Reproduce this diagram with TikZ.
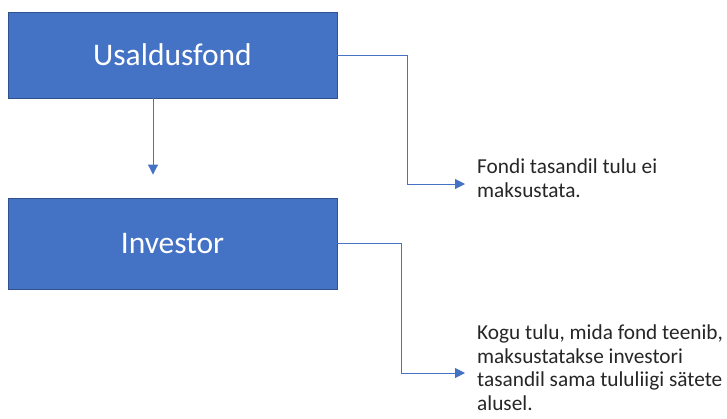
\documentclass[tikz,border=0pt]{standalone}
\usepackage{fontspec}
\setmainfont{Carlito}
\usetikzlibrary{arrows.meta}
\definecolor{boxblue}{HTML}{4472C4}
\definecolor{boxedge}{HTML}{2F528F}
\begin{document}
\begin{tikzpicture}[x=1pt,y=-1pt,
  entity/.style={rectangle, fill=boxblue, draw=boxedge, line width=0.9pt,
    minimum width=329pt, text=white, font=\fontsize{31.5}{37}\selectfont, inner sep=0pt},
  conn/.style={draw=boxblue, line width=1pt,
    -{Triangle[length=10pt,width=10pt]}},
  note/.style={align=left, inner sep=0pt, text=black!85,
    font=\fontsize{21.3}{23.5}\selectfont}]
  \useasboundingbox (0,0) rectangle (727,418);

  % the two entities
  \node[entity, minimum height=86pt] (fund) at (172.5,55) {Usaldusfond};
  \node[entity, minimum height=91pt] (investor) at (172.5,243.5) {Investor};

  % explanatory notes (base = baseline of the last line)
  \node[note, anchor=base west] (note1) at (477,197)
    {Fondi tasandil tulu ei\\maksustata.};
  \node[note, anchor=base west] (note2) at (477,410)
    {Kogu tulu, mida fond teenib,\\maksustatakse investori\\tasandil sama tululiigi sätete\\alusel.};

  \coordinate (tip1) at (465,184);
  \coordinate (tip2) at (465,373);

  % connectors
  \draw[conn] ([xshift=-19.5pt]fund.south) -- ([xshift=-19.5pt,yshift=23pt]investor.north);
  \draw[conn] (fund.east) -- ++(70,0) |- (tip1);
  \draw[conn] (investor.east) -- ++(64,0) |- (tip2);
\end{tikzpicture}
\end{document}
